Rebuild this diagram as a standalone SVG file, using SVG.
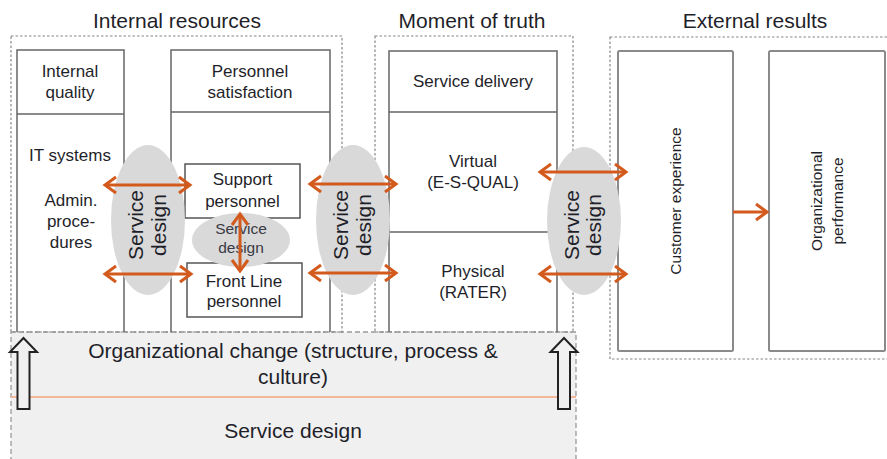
<svg xmlns="http://www.w3.org/2000/svg" width="887" height="459" viewBox="0 0 887 459">
<defs>
<style>
text{font-family:"Liberation Sans",Arial,sans-serif;fill:#1f1f2a;text-anchor:middle}
.t17{font-size:17px}
.title{font-size:21px}
.big{font-size:21px}
.sm{font-size:15.5px}
.box{fill:none;stroke:#666;stroke-width:1.5}
.wbox{fill:#fff;stroke:#555;stroke-width:1.5}
.gbox{fill:#fff;stroke:#8a8a8a;stroke-width:2}
.dash{fill:none;stroke:#888;stroke-width:1.2;stroke-dasharray:2.5 2}
.ell{fill:#d9d9d9}
.arr{stroke:#d35a1d;stroke-width:3;fill:none}
.hollow{fill:#f0f0f0;stroke:#222;stroke-width:2;stroke-linejoin:miter}
</style>
<marker id="ah" viewBox="-13 -10 16 20" markerWidth="16" markerHeight="20" refX="0" refY="0" markerUnits="userSpaceOnUse" orient="auto-start-reverse">
<path d="M-11,-8 L0,0 L-11,8" fill="none" stroke="#d35a1d" stroke-width="3"/>
</marker>
</defs>
<rect x="0" y="0" width="887" height="459" fill="#fff"/>

<g id="band">
<rect x="11" y="332" width="565" height="132" fill="#f0f0f0" stroke="#999" stroke-width="1.3" stroke-dasharray="5 3"/>
<line x1="11" y1="397" x2="576" y2="397" stroke="#f2b89a" stroke-width="2"/>
<text class="big" x="293" y="358">Organizational change (structure, process &amp;</text>
<text class="big" x="293" y="384">culture)</text>
<text class="big" x="293" y="438">Service design</text>
<polygon class="hollow" points="23.5,338 37,352 29.5,352 29.5,409 17.5,409 17.5,352 10,352"/>
<polygon class="hollow" points="564,338 577.5,352 570,352 570,409 558,409 558,352 550.5,352"/>
</g>

<g id="internal-resources">
<rect class="dash" x="11" y="36" width="331" height="296"/>
<text class="title" x="177" y="28">Internal resources</text>
</g>
<g id="moment-of-truth">
<rect class="dash" x="375" y="36" width="198" height="296"/>
<text class="title" x="472" y="28">Moment of truth</text>
</g>
<g id="external-results">
<rect class="dash" x="610" y="37" width="280" height="322"/>
<text class="title" x="755" y="28">External results</text>
</g>

<g id="internal-quality">
<path class="box" d="M17,332 V50 H124 V332 M17,114 H124"/>
<text class="t17" x="70" y="77">Internal</text>
<text class="t17" x="70" y="98">quality</text>
<text class="t17" x="70" y="161">IT systems</text>
<text class="t17" x="71" y="206">Admin.</text>
<text class="t17" x="71" y="227">proce-</text>
<text class="t17" x="71" y="248">dures</text>
</g>

<g id="personnel-satisfaction">
<path class="box" d="M171,332 V50 H330 V332 M171,112 H330"/>
<text class="t17" x="250" y="77">Personnel</text>
<text class="t17" x="250" y="98">satisfaction</text>
</g>

<g id="support-personnel">
<rect class="wbox" x="185" y="164" width="115" height="54"/>
<text class="t17" x="242.5" y="185">Support</text>
<text class="t17" x="242.5" y="207">personnel</text>
</g>

<g id="front-line-personnel">
<rect class="wbox" x="187" y="263" width="115" height="54"/>
<text class="t17" x="244" y="287">Front Line</text>
<text class="t17" x="244" y="307">personnel</text>
</g>

<g id="service-delivery">
<path class="box" d="M389,332 V51 H557 V332 M389,112 H557 M389,232 H557"/>
<text class="t17" x="473" y="87">Service delivery</text>
<text class="t17" x="473" y="167">Virtual</text>
<text class="t17" x="473" y="188">(E-S-QUAL)</text>
<text class="t17" x="473" y="277">Physical</text>
<text class="t17" x="473" y="298">(RATER)</text>
</g>

<g id="customer-experience">
<rect class="gbox" x="618" y="51" width="115" height="300" rx="1.5"/>
<text class="sm" transform="translate(681,201) rotate(-90)">Customer experience</text>
</g>

<g id="organizational-performance">
<rect class="gbox" x="769" y="51" width="116" height="300" rx="1.5"/>
<text class="sm" transform="translate(822,201) rotate(-90)">Organizational</text>
<text class="sm" transform="translate(843,201) rotate(-90)">performance</text>
</g>

<g id="service-design-1">
<ellipse class="ell" cx="148" cy="220" rx="37" ry="75"/>
<text class="big" transform="translate(143,225) rotate(-90)">Service</text>
<text class="big" transform="translate(166,225) rotate(-90)">design</text>
</g>
<g id="service-design-2">
<ellipse class="ell" cx="353" cy="220" rx="37" ry="75"/>
<text class="big" transform="translate(348,225) rotate(-90)">Service</text>
<text class="big" transform="translate(371,225) rotate(-90)">design</text>
</g>
<g id="service-design-3">
<ellipse class="ell" cx="584" cy="221" rx="37" ry="74"/>
<text class="big" transform="translate(579,225) rotate(-90)">Service</text>
<text class="big" transform="translate(601,225) rotate(-90)">design</text>
</g>
<g id="service-design-small">
<ellipse class="ell" cx="241" cy="240" rx="49" ry="27"/>
<text class="sm" x="241" y="234" style="fill:#3a3a44">Service</text>
<text class="sm" x="241" y="253" style="fill:#3a3a44">design</text>
</g>

<g id="connectors">
<line class="arr" x1="105" y1="185" x2="190" y2="185" marker-start="url(#ah)" marker-end="url(#ah)"/>
<line class="arr" x1="105" y1="274" x2="191" y2="274" marker-start="url(#ah)" marker-end="url(#ah)"/>
<line class="arr" x1="310" y1="184" x2="396" y2="184" marker-start="url(#ah)" marker-end="url(#ah)"/>
<line class="arr" x1="310" y1="273" x2="396" y2="273" marker-start="url(#ah)" marker-end="url(#ah)"/>
<line class="arr" x1="540" y1="172" x2="626" y2="172" marker-start="url(#ah)" marker-end="url(#ah)"/>
<line class="arr" x1="540" y1="274" x2="626" y2="274" marker-start="url(#ah)" marker-end="url(#ah)"/>
<line class="arr" x1="240" y1="214" x2="240" y2="271" marker-start="url(#ah)" marker-end="url(#ah)"/>
<line class="arr" x1="733" y1="212" x2="767" y2="212" marker-end="url(#ah)"/>
</g>
</svg>
